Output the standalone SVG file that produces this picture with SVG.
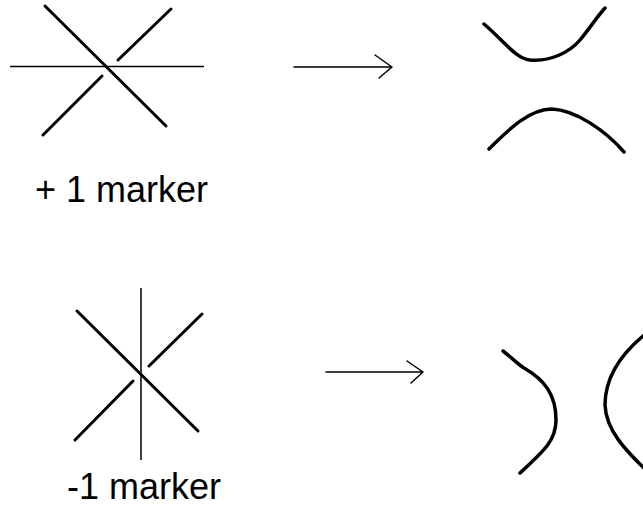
<svg xmlns="http://www.w3.org/2000/svg" width="643" height="513" viewBox="0 0 643 513">
<style>
.thick{stroke:#000;stroke-width:3;stroke-linecap:round;fill:none}
.thin{stroke:#000;stroke-width:1.5;fill:none}
.curve{stroke:#000;stroke-width:3.5;stroke-linecap:round;fill:none}
.arrow{stroke:#000;stroke-width:1.5;fill:none;stroke-linecap:round;stroke-linejoin:round}
.lbl{font-family:"Liberation Sans",Arial,sans-serif;font-size:36px;fill:#000}
</style>
<rect width="643" height="513" fill="#fff"/>
<g id="cross-plus">
<line class="thin" x1="10" y1="66.5" x2="204" y2="66.5"/>
<line class="thick" x1="45" y1="6" x2="166" y2="126"/>
<line class="thick" x1="118" y1="60" x2="171" y2="9"/>
<line class="thick" x1="102" y1="76" x2="43" y2="135"/>
</g>
<g id="label-plus"><text class="lbl" x="35" y="202">+ 1 marker</text></g>
<g id="result-plus">
<path class="curve" d="M484,24 C505,42 515,58 530,60 C550,62 570,52 580,40 C590,28 596,18 605,8"/>
<path class="curve" d="M489,149 C510,128 530,109 552,109 C575,110 605,130 624,152"/>
</g>
<g id="cross-minus">
<line class="thin" x1="141" y1="288" x2="141" y2="460"/>
<line class="thick" x1="77" y1="311" x2="198" y2="431"/>
<line class="thick" x1="149" y1="366" x2="202" y2="314"/>
<line class="thick" x1="133" y1="381" x2="75" y2="440"/>
</g>
<g id="label-minus"><text class="lbl" x="67" y="499">-1 marker</text></g>
<g id="result-minus">
<path class="curve" d="M503,351 C512,358 518,364 524,368 C545,380 556,395 556,420 C556,440 545,450 520,473"/>
<path class="curve" d="M648,332 C625,350 605,375 605,405 C606,430 625,450 648,472"/>
</g>
<g id="connectors">
<path class="arrow" d="M294,67 H392 M375,55 L392,67 L379,78"/>
<path class="arrow" d="M326,372 H423 M407,361 L423,372 L411,383"/>
</g>
</svg>
